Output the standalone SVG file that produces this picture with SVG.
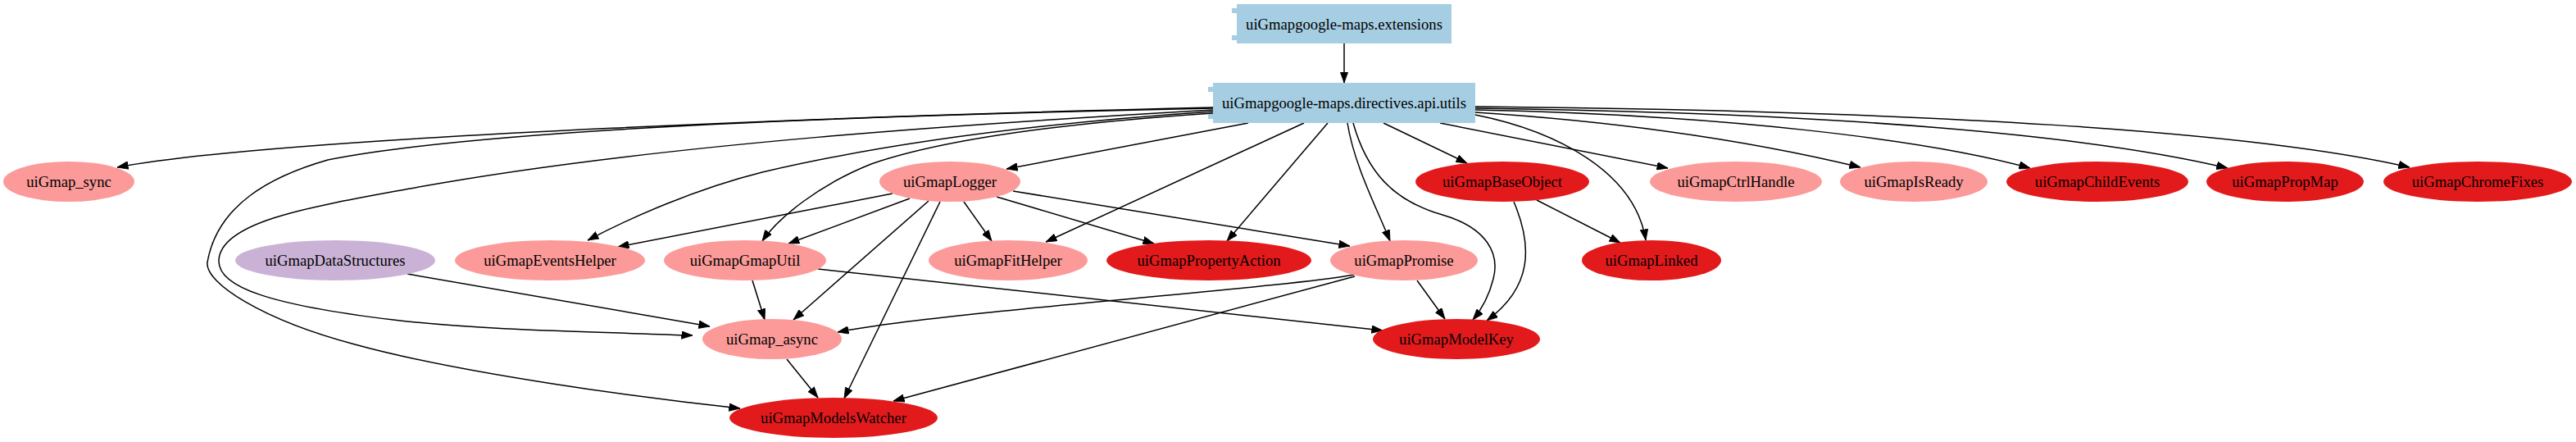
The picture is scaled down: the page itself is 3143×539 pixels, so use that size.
<svg xmlns="http://www.w3.org/2000/svg" width="3143" height="539" viewBox="0 0 3143 539">
<style>
  .bg { fill: #ffffff; }
  .box { fill: #a6cee3; stroke: none; }
  .light { fill: #fb9a99; stroke: none; }
  .dark { fill: #e31a1c; stroke: none; }
  .purple { fill: #cab2d6; stroke: none; }
  .lbl { font-family: "Liberation Serif", "Times New Roman", serif; font-size: 18.67px; fill: #000000; text-anchor: middle; }
  .edge { fill: none; stroke: #000000; stroke-width: 1.5; marker-end: url(#arrow); }
</style>
<defs>
  <marker id="arrow" markerUnits="userSpaceOnUse" markerWidth="14" markerHeight="10" viewBox="0 0 14 10" refX="13.5" refY="5" orient="auto">
    <path d="M0,0.2 L13.5,5 L0,9.8 Z" fill="#000000" stroke="#000000" stroke-width="0.8"/>
  </marker>
</defs>
<rect class="bg" x="0" y="0" width="3143" height="539"/>

<g id="connectors">
  <path class="edge" d="M1640,53 L1640,101"/>
  <path class="edge" d="M1480,131 C1100,140 350,165 143,204"/>
  <path class="edge" d="M1480,132 C1100,140 600,155 400,195 C330,215 265,250 253,320 C250,345 320,390 433,420 C560,455 780,485 903,498"/>
  <path class="edge" d="M1480,134 C1200,150 800,175 500,230 C380,252 270,270 267,317 C265,350 330,372 480,390 C580,402 700,404 845,409"/>
  <path class="edge" d="M1480,136 C1300,148 1100,170 930,210 C850,230 770,265 717,293"/>
  <path class="edge" d="M1480,138 C1300,150 1150,170 1063,200 C1000,225 950,265 930,294"/>
  <path class="edge" d="M1523,150 L1228,206"/>
  <path class="edge" d="M1591,150 L1276,295"/>
  <path class="edge" d="M1620,150 L1497,294"/>
  <path class="edge" d="M1644,150 C1652,200 1678,250 1696,294"/>
  <path class="edge" d="M1651,150 C1668,210 1700,245 1760,262 C1815,278 1830,310 1822,340 C1817,360 1808,377 1797,390"/>
  <path class="edge" d="M1688,150 L1790,199"/>
  <path class="edge" d="M1757,150 L2035,205"/>
  <path class="edge" d="M1800,140 C1900,160 1995,210 2008,293"/>
  <path class="edge" d="M1800,137 C2000,150 2150,175 2270,204"/>
  <path class="edge" d="M1800,134 C2100,140 2350,170 2477,205"/>
  <path class="edge" d="M1800,132 C2250,138 2550,165 2718,205"/>
  <path class="edge" d="M1800,130 C2350,135 2750,160 2940,204"/>
  <path class="edge" d="M1089,236 L754,301"/>
  <path class="edge" d="M1110,242 L962,297"/>
  <path class="edge" d="M1133,245 L968,390"/>
  <path class="edge" d="M1147,246 L1030,486"/>
  <path class="edge" d="M1176,246 L1210,294"/>
  <path class="edge" d="M1216,240 L1408,297"/>
  <path class="edge" d="M1236,233 L1647,300"/>
  <path class="edge" d="M497,334 L866,398"/>
  <path class="edge" d="M918,342 L933,390"/>
  <path class="edge" d="M998,328 L1687,403"/>
  <path class="edge" d="M1652,335 C1560,352 1150,380 1022,405"/>
  <path class="edge" d="M1653,337 L1090,489"/>
  <path class="edge" d="M1729,342 L1763,389"/>
  <path class="edge" d="M1847,246 C1870,300 1870,350 1814,391"/>
  <path class="edge" d="M1875,244 L1977,296"/>
  <path class="edge" d="M960,438 L998,485"/>
</g>

<g id="node-extensions">
  <rect class="box" x="1509" y="5" width="262" height="48"/>
  <rect class="box" x="1503" y="10" width="12" height="6"/>
  <rect class="box" x="1503" y="43" width="12" height="6"/>
  <text class="lbl" x="1640" y="35.5">uiGmapgoogle-maps.extensions</text>
</g>
<g id="node-utils">
  <rect class="box" x="1480" y="101" width="320" height="49"/>
  <rect class="box" x="1474" y="106" width="12" height="6"/>
  <rect class="box" x="1474" y="139" width="12" height="6"/>
  <text class="lbl" x="1640" y="131.5">uiGmapgoogle-maps.directives.api.utils</text>
</g>

<g id="node-sync"><ellipse class="light" cx="84" cy="221.5" rx="80" ry="24.5"/><text class="lbl" x="84" y="228">uiGmap_sync</text></g>
<g id="node-logger"><ellipse class="light" cx="1159" cy="221.5" rx="86" ry="24.5"/><text class="lbl" x="1159" y="228">uiGmapLogger</text></g>
<g id="node-baseobject"><ellipse class="dark" cx="1833" cy="221.5" rx="106" ry="24.5"/><text class="lbl" x="1833" y="228">uiGmapBaseObject</text></g>
<g id="node-ctrlhandle"><ellipse class="light" cx="2118" cy="221.5" rx="105" ry="24.5"/><text class="lbl" x="2118" y="228">uiGmapCtrlHandle</text></g>
<g id="node-isready"><ellipse class="light" cx="2335" cy="221.5" rx="90" ry="24.5"/><text class="lbl" x="2335" y="228">uiGmapIsReady</text></g>
<g id="node-childevents"><ellipse class="dark" cx="2559" cy="221.5" rx="111" ry="24.5"/><text class="lbl" x="2559" y="228">uiGmapChildEvents</text></g>
<g id="node-propmap"><ellipse class="dark" cx="2788" cy="221.5" rx="96" ry="24.5"/><text class="lbl" x="2788" y="228">uiGmapPropMap</text></g>
<g id="node-chromefixes"><ellipse class="dark" cx="3023" cy="221.5" rx="115" ry="24.5"/><text class="lbl" x="3023" y="228">uiGmapChromeFixes</text></g>

<g id="node-datastructures"><ellipse class="purple" cx="409" cy="317.5" rx="122" ry="24.5"/><text class="lbl" x="409" y="324">uiGmapDataStructures</text></g>
<g id="node-eventshelper"><ellipse class="light" cx="671" cy="317.5" rx="116" ry="24.5"/><text class="lbl" x="671" y="324">uiGmapEventsHelper</text></g>
<g id="node-gmaputil"><ellipse class="light" cx="909" cy="317.5" rx="99" ry="24.5"/><text class="lbl" x="909" y="324">uiGmapGmapUtil</text></g>
<g id="node-fithelper"><ellipse class="light" cx="1230" cy="317.5" rx="97" ry="24.5"/><text class="lbl" x="1230" y="324">uiGmapFitHelper</text></g>
<g id="node-propertyaction"><ellipse class="dark" cx="1475" cy="317.5" rx="125" ry="24.5"/><text class="lbl" x="1475" y="324">uiGmapPropertyAction</text></g>
<g id="node-promise"><ellipse class="light" cx="1713" cy="317.5" rx="90" ry="24.5"/><text class="lbl" x="1713" y="324">uiGmapPromise</text></g>
<g id="node-linked"><ellipse class="dark" cx="2015" cy="317.5" rx="85" ry="24.5"/><text class="lbl" x="2015" y="324">uiGmapLinked</text></g>

<g id="node-async"><ellipse class="light" cx="942" cy="413.5" rx="85" ry="24.5"/><text class="lbl" x="942" y="420">uiGmap_async</text></g>
<g id="node-modelkey"><ellipse class="dark" cx="1777" cy="413.5" rx="102" ry="24.5"/><text class="lbl" x="1777" y="420">uiGmapModelKey</text></g>

<g id="node-modelswatcher"><ellipse class="dark" cx="1017" cy="509.5" rx="127" ry="24.5"/><text class="lbl" x="1017" y="516">uiGmapModelsWatcher</text></g>
</svg>
